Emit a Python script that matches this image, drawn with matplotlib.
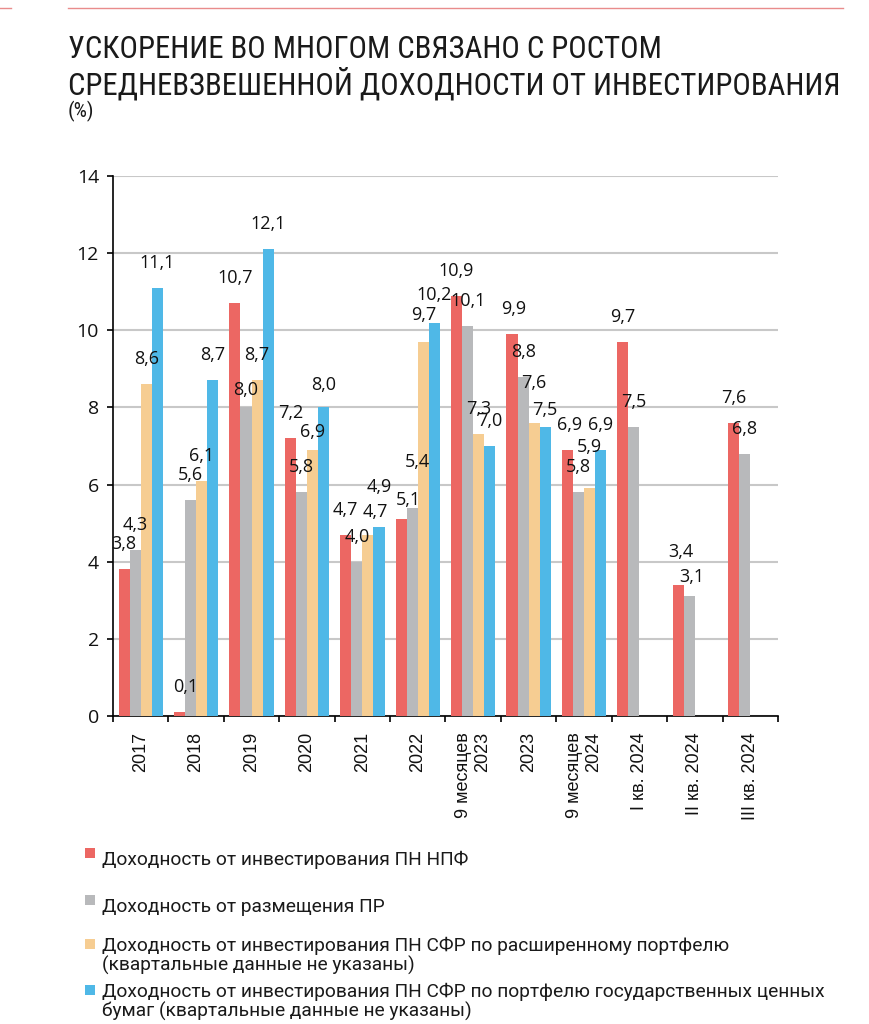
import matplotlib
matplotlib.use('Agg')
import matplotlib.pyplot as plt
import numpy as np
from matplotlib import font_manager as fm
from matplotlib.lines import Line2D
from matplotlib.patches import Rectangle

# ---------------- data ----------------
categories = ['2017', '2018', '2019', '2020', '2021', '2022',
              '9 месяцев\n2023', '2023', '9 месяцев\n2024',
              'I кв. 2024', 'II кв. 2024', 'III кв. 2024']
npf_yield = [3.8, 0.1, 10.7, 7.2, 4.7, 5.1, 10.9, 9.9, 6.9, 9.7, 3.4, 7.6]
pr_yield = [4.3, 5.6, 8.0, 5.8, 4.0, 5.4, 10.1, 8.8, 5.8, 7.5, 3.1, 6.8]
sfr_ext_yield = [8.6, 6.1, 8.7, 6.9, 4.7, 9.7, 7.3, 7.6, 5.9, None, None, None]
sfr_gov_yield = [11.1, 8.7, 12.1, 8.0, 4.9, 10.2, 7.0, 7.5, 6.9, None, None, None]
series_labels = [
    'Доходность от инвестирования ПН НПФ',
    'Доходность от размещения ПР',
    'Доходность от инвестирования ПН СФР по расширенному портфелю\n(квартальные данные не указаны)',
    'Доходность от инвестирования ПН СФР по портфелю государственных ценных\nбумаг (квартальные данные не указаны)',
]
y_ticks = [0, 2, 4, 6, 8, 10, 12, 14]
title_lines = ['УСКОРЕНИЕ ВО МНОГОМ СВЯЗАНО С РОСТОМ',
               'СРЕДНЕВЗВЕШЕННОЙ ДОХОДНОСТИ ОТ ИНВЕСТИРОВАНИЯ']
unit_label = '(%)'

# ---------------- style ----------------
colors = ['#EC6763', '#B8B9BB', '#F6CD92', '#4FB8E7']
W, H = 870, 1024
DPI = 100
PT = 72.0 / DPI  # points per pixel

names = {f.name for f in fm.fontManager.ttflist}
title_font = 'Roboto'
for cand in ['Roboto Condensed', 'Liberation Sans Narrow']:
    if cand in names:
        title_font = cand
        break
label_font = 'Open Sans'
xtick_font = 'Liberation Sans'
legend_font = 'Roboto'

# label nudges (px): (series, category) -> (dx, dy)
nudges = {
    (0, 1): (6, 0), (1, 2): (0, -8), (2, 3): (0, -7), (3, 3): (0, -3),
    (2, 4): (7, -2), (3, 4): (0, 15),
    (0, 5): (7, -6), (1, 5): (5, 21), (2, 5): (0, 2), (3, 5): (0, 3),
    (2, 7): (0, 15), (3, 7): (0, -8), (0, 7): (2, 0),
    (2, 8): (0, 16), (0, 8): (2, 0),
    (0, 10): (3, 8), (1, 10): (2, -6),
}

fig = plt.figure(figsize=(W / DPI, H / DPI), dpi=DPI)
fig.patch.set_facecolor('white')

ax_left, ax_right, ax_top, ax_bot = 113, 778, 176, 716
ax = fig.add_axes([ax_left / W, 1 - ax_bot / H, (ax_right - ax_left) / W, (ax_bot - ax_top) / H])

series = [npf_yield, pr_yield, sfr_ext_yield, sfr_gov_yield]
n_cat = len(categories)
x = np.arange(n_cat)
bw = 0.2
offsets = [-1.5 * bw, -0.5 * bw, 0.5 * bw, 1.5 * bw]

for si, (vals, col) in enumerate(zip(series, colors)):
    xs = [x[i] + offsets[si] for i, v in enumerate(vals) if v is not None]
    vs = [v for v in vals if v is not None]
    ax.bar(xs, vs, width=bw, color=col, zorder=3, linewidth=0)
    for i, v in enumerate(vals):
        if v is None:
            continue
        dx, dy = nudges.get((si, i), (0, 0))
        ax.annotate(f'{v:.1f}'.replace('.', ','), xy=(x[i] + offsets[si], v),
                    xytext=(dx * PT, (25 + dy) * PT), textcoords='offset points',
                    ha='center', va='center', fontsize=13, family=label_font,
                    color='#111111', zorder=5)

ax.set_xlim(-0.5, n_cat - 0.5)
ax.set_ylim(0, 14)
ax.set_yticks(y_ticks)
ax.set_yticklabels([str(t) for t in y_ticks], family=label_font, fontsize=14, color='#111111')
ax.yaxis.grid(True, color='#C8C8C8', linewidth=1.5, zorder=0)
ax.set_axisbelow(True)

ax.set_xticks(x)
ax.set_xticklabels(categories, rotation=90, family=xtick_font, fontsize=13,
                   va='top', ha='center', multialignment='right', color='#111111')
ax.set_xticks(np.arange(-0.5, n_cat, 1.0), minor=True)
ax.tick_params(axis='x', which='major', length=0, pad=16 * PT)
ax.tick_params(axis='x', which='minor', length=6 * PT, width=1.2, direction='out', color='black')
ax.tick_params(axis='y', length=6 * PT, width=1.2, direction='out', pad=8 * PT, color='black')

for s in ['top', 'right']:
    ax.spines[s].set_visible(False)
for s in ['left', 'bottom']:
    ax.spines[s].set_color('black')
    ax.spines[s].set_linewidth(1.2)

# top decorative line
fig.add_artist(Line2D([68 / W, 843 / W], [1 - 8 / H, 1 - 8 / H], color='#E98C8C', linewidth=1.0))
fig.add_artist(Line2D([0, 11 / W], [1 - 8 / H, 1 - 8 / H], color='#E98C8C', linewidth=1.0))

# title (size fitted so the longer line spans ~775 px)
t1 = fig.text(68 / W, 1 - 58 / H, title_lines[0], family=title_font, fontsize=24,
              va='baseline', ha='left', color='#1A1A1A')
t2 = fig.text(68 / W, 1 - 94 / H, title_lines[1], family=title_font, fontsize=24,
              va='baseline', ha='left', color='#1A1A1A')
renderer = fig.canvas.get_renderer()
w2 = t2.get_window_extent(renderer).width
new_size = 24 * 775.0 / w2
t1.set_fontsize(new_size)
t2.set_fontsize(new_size)
fig.text(68 / W, 1 - 117 / H, unit_label, family=title_font, fontsize=15,
         va='baseline', ha='left', color='#1A1A1A')

# legend: (first-line baseline px, square centre offset px)
legend_rows = [865, 912, 950, 996]
sq_offsets = [-12, -12, -6, -6]
for lbl, col, base, so in zip(series_labels, colors, legend_rows, sq_offsets):
    cy = base + so
    fig.add_artist(Rectangle((85 / W, 1 - (cy + 5) / H), 10 / W, 10 / H,
                             transform=fig.transFigure, color=col, linewidth=0))
    n_lines = lbl.count('\n') + 1
    last_base = base + 21 * (n_lines - 1)
    fig.text(102 / W, 1 - last_base / H, lbl, family=legend_font, fontsize=13.8,
             va='baseline', ha='left', color='#1A1A1A', linespacing=1.1)

fig.savefig('out.png', dpi=DPI, facecolor='white')
